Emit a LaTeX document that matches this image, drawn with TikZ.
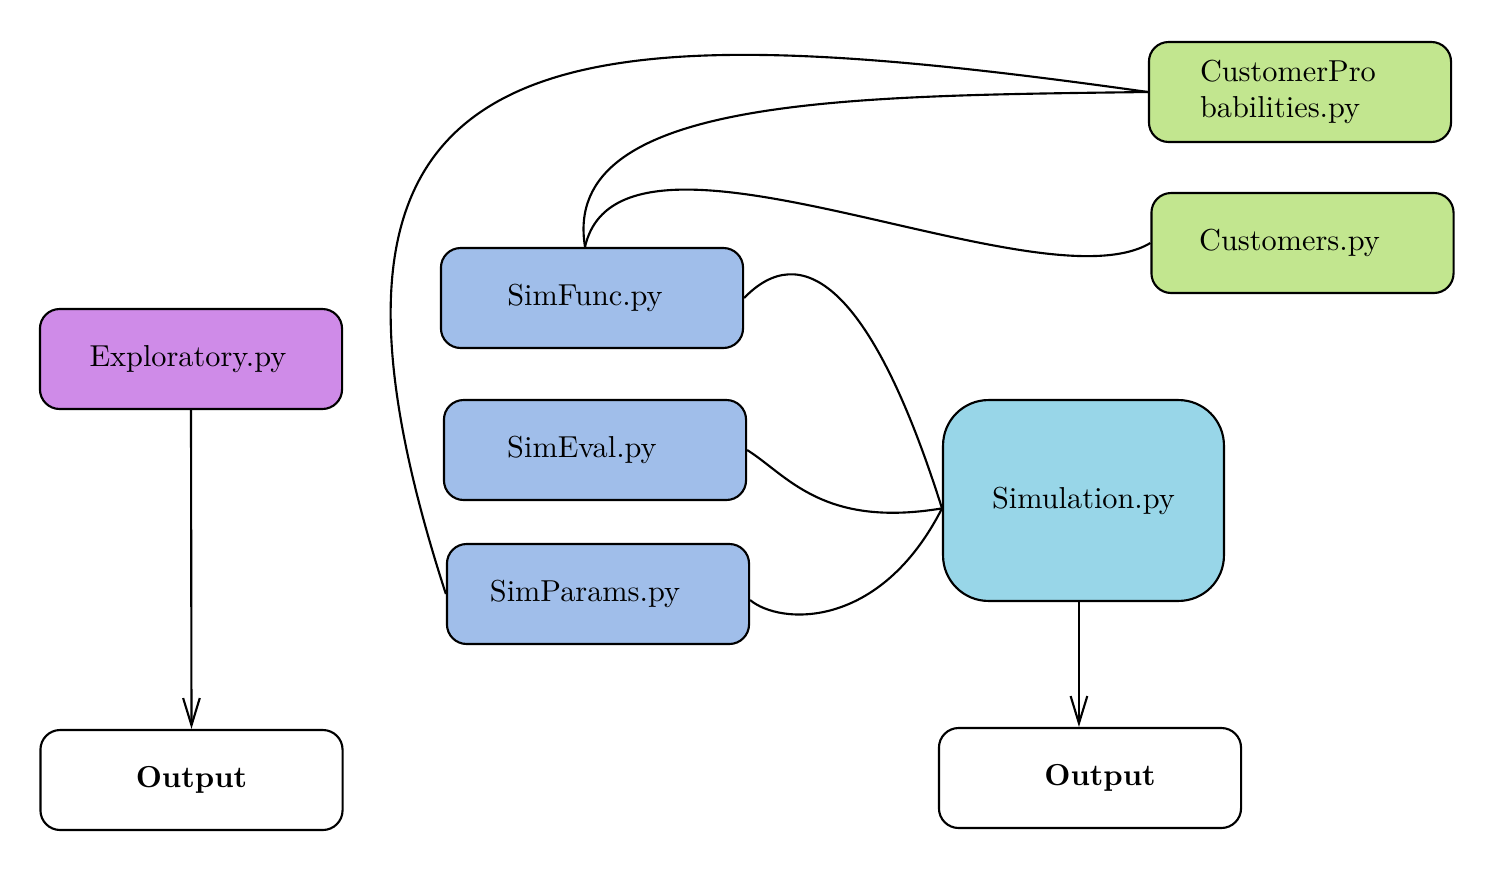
\documentclass[tikz,border=0pt]{standalone}
\usetikzlibrary{arrows.meta}
\definecolor{cpurple}{HTML}{CF8BE8}
\definecolor{cblue}{HTML}{A0BEEA}
\definecolor{ccyan}{HTML}{98D6E8}
\definecolor{cgreen}{HTML}{C2E68F}
\begin{document}
\begin{tikzpicture}[x=0.33pt,y=0.33pt,
  box/.style={draw, line width=0.7pt, rounded corners=6.5pt, minimum width=99.7pt, minimum height=33pt, inner sep=0pt},
  tsh/.style={execute at begin node={\kern#1}},
  link/.style={line width=0.7pt},
  arr/.style={line width=0.7pt, -{Straight Barb[length=9pt,width=5.5pt]}}]
\useasboundingbox (0,0) rectangle (1504,-869);

\node[box, fill=cpurple, tsh=-2pt] (explor) at (191,-359) {Exploratory.py};
\node[box, fill=white] (out1) at (191.5,-780) {\textbf{Output}};
\node[box, fill=cblue, tsh=-4.6pt] (simfunc) at (592,-298) {SimFunc.py};
\node[box, fill=cblue, tsh=-8.6pt] (simeval) at (595,-450) {SimEval.py};
\node[box, fill=cblue, tsh=-8.6pt] (simparams) at (598,-594) {SimParams.py};
\node[box, fill=ccyan, rounded corners=15pt, minimum width=92.7pt, minimum height=66.3pt] (sim) at (1083.5,-500.5) {Simulation.py};
\node[box, fill=white, tsh=6.6pt] (out2) at (1090,-778) {\textbf{Output}};
\node[box, fill=cgreen, text width=66pt, align=left] (cprob) at (1300,-92) {CustomerPro\\babilities.py};
\node[box, fill=cgreen, tsh=-8.6pt] (cust) at (1302.5,-243) {Customers.py};

\coordinate (simin) at ([yshift=-2.6pt]sim.west);
\coordinate (sfn) at ([xshift=-2.3pt]simfunc.north);
\coordinate (spe) at ([yshift=-2pt]simparams.east);

\draw[arr] (explor.south) -- (out1.north);
\draw[arr] ([xshift=-1.5pt]sim.south) -- ([xshift=-1.5pt]sim.south |- out2.north);

\draw[link] (simfunc.east) .. controls +(56,58) and +(-72,228) .. (simin);
\draw[link] (simeval.east) .. controls +(40,-25) and +(-120,-20) .. (simin);
\draw[link] (spe) .. controls +(30,-25) and +(-62,-122) .. (simin);
\draw[link] (simparams.west) .. controls +(108:600) and +(172:600) .. (cprob.west);
\draw[link] (sfn) .. controls +(-25,151) and +(-299,-4) .. (cprob.west);
\draw[link] (sfn) .. controls +(35,156) and +(-112,-67) .. (cust.west);
\end{tikzpicture}
\end{document}
